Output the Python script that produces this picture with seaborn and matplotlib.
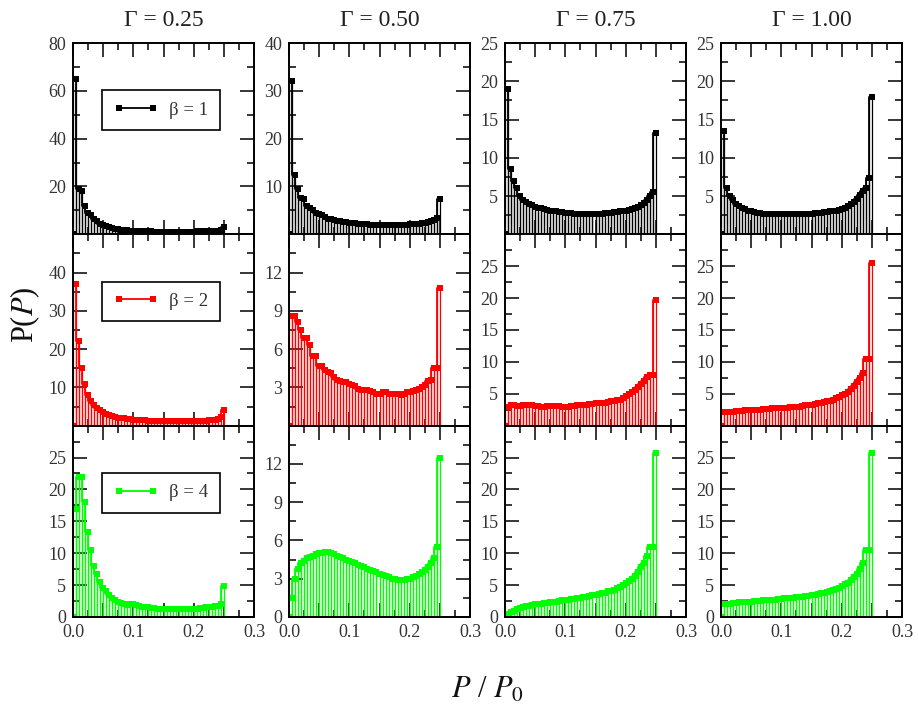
import numpy as np
import pandas as pd
import matplotlib
matplotlib.use('Agg')
import matplotlib.pyplot as plt
import seaborn as sns

# column titles and row labels
gammas = ['0.25', '0.50', '0.75', '1.00']
betas = ['1', '2', '4']
colors = ['black', 'red', '#00ff00']

# P(P) per bin, bins of width 0.005 from 0 to 0.25
# row beta = 1
b1_g025 = [65, 19, 18, 12, 9, 8, 6.5, 5.5, 4.5, 4, 3.5, 3, 2.7, 2.4, 2.2, 2, 1.8, 1.7, 1.6, 1.5,
           1.4, 1.3, 1.3, 1.2, 1.2, 1.2, 1.1, 1.1, 1.1, 1.1, 1.1, 1.1, 1.1, 1.1, 1.1, 1.1, 1.1, 1.1, 1.1, 1.1,
           1.2, 1.2, 1.2, 1.2, 1.3, 1.3, 1.4, 1.6, 2.0, 3.2]
b1_g050 = [32, 12.5, 9.5, 7.5, 7.3, 6, 5.5, 5, 4.5, 4.2, 4, 3.6, 3.3, 3.2, 3, 2.8, 2.7, 2.6, 2.5, 2.4,
           2.3, 2.3, 2.2, 2.2, 2.1, 2.1, 2.0, 2.0, 2.0, 2.0, 2.0, 2.0, 2.0, 2.0, 2.0, 2.0, 2.0, 2.0, 2.0, 2.1,
           2.1, 2.2, 2.2, 2.3, 2.4, 2.6, 2.8, 3.1, 3.4, 7.3]
b1_g075 = [19, 8.5, 7, 6, 5, 4.5, 4.2, 4, 3.8, 3.6, 3.5, 3.4, 3.3, 3.2, 3.1, 3.0, 3.0, 2.9, 2.9, 2.8,
           2.8, 2.8, 2.7, 2.7, 2.7, 2.7, 2.7, 2.7, 2.7, 2.7, 2.7, 2.7, 2.8, 2.8, 2.8, 2.9, 2.9, 3.0, 3.0, 3.1,
           3.2, 3.3, 3.4, 3.6, 3.8, 4.1, 4.5, 5.0, 5.5, 13.2]
b1_g100 = [13.5, 6, 5, 4.5, 4, 3.7, 3.5, 3.3, 3.1, 3.0, 2.9, 2.8, 2.8, 2.7, 2.7, 2.7, 2.7, 2.7, 2.7, 2.7,
           2.6, 2.6, 2.7, 2.7, 2.7, 2.7, 2.6, 2.7, 2.7, 2.7, 2.8, 2.8, 2.8, 2.9, 2.9, 3.0, 3.0, 3.1, 3.2, 3.3,
           3.5, 3.7, 3.9, 4.2, 4.6, 5.2, 5.6, 6.0, 7.3, 18]
# row beta = 2
b2_g025 = [37, 22, 15, 11, 8, 6.5, 5.5, 4.5, 4, 3.5, 3, 2.8, 2.5, 2.3, 2.1, 2, 1.9, 1.8, 1.7, 1.6,
           1.5, 1.5, 1.4, 1.4, 1.3, 1.3, 1.3, 1.2, 1.2, 1.2, 1.2, 1.2, 1.2, 1.2, 1.2, 1.2, 1.2, 1.2, 1.2, 1.2,
           1.2, 1.3, 1.3, 1.3, 1.4, 1.4, 1.5, 1.7, 2.2, 4.0]
b2_g050 = [8.6, 8.6, 8.1, 7.5, 6.9, 6.9, 6.3, 5.5, 5.5, 4.7, 4.7, 4.4, 4.2, 4.1, 3.8, 3.6, 3.5, 3.4, 3.4, 3.3,
           3.2, 3.1, 2.9, 2.8, 2.8, 2.8, 2.7, 2.6, 2.5, 2.5, 2.6, 2.6, 2.5, 2.5, 2.5, 2.5, 2.4, 2.5, 2.6, 2.6,
           2.7, 2.8, 2.9, 3.0, 3.2, 3.5, 3.6, 4.5, 4.5, 10.8]
b2_g075 = [3.0, 3.3, 3.3, 3.1, 3.1, 3.2, 3.2, 3.2, 3.2, 3.1, 3.1, 3.0, 3.0, 3.1, 3.1, 3.1, 3.1, 3.1, 3.0, 3.0,
           3.0, 3.1, 3.1, 3.2, 3.3, 3.3, 3.3, 3.4, 3.4, 3.5, 3.5, 3.6, 3.6, 3.7, 3.8, 3.9, 4.0, 4.1, 4.3, 4.6,
           4.9, 5.2, 5.6, 6.0, 6.5, 7.0, 7.6, 8.0, 8.0, 19.7]
b2_g100 = [2.2, 2.2, 2.2, 2.2, 2.3, 2.3, 2.3, 2.4, 2.4, 2.4, 2.5, 2.5, 2.5, 2.6, 2.6, 2.6, 2.7, 2.7, 2.7, 2.8,
           2.8, 2.8, 2.9, 2.9, 3.0, 3.0, 3.1, 3.2, 3.2, 3.3, 3.4, 3.5, 3.6, 3.7, 3.8, 3.9, 4.1, 4.3, 4.5, 4.8,
           5.0, 5.3, 5.7, 6.2, 6.8, 7.5, 8.3, 10.5, 10.5, 25.5]
# row beta = 4
b4_g025 = [17, 22, 22, 18, 13.3, 10.5, 8, 6.8, 5.5, 4.5, 4.0, 3.4, 3.0, 2.7, 2.4, 2.2, 2.0, 1.9, 2.0, 2.1,
           1.9, 1.7, 1.6, 1.5, 1.5, 1.4, 1.4, 1.3, 1.3, 1.2, 1.2, 1.2, 1.2, 1.2, 1.2, 1.2, 1.2, 1.2, 1.3, 1.3,
           1.3, 1.4, 1.4, 1.5, 1.5, 1.6, 1.7, 1.8, 2.0, 4.8]
b4_g050 = [1.5, 3.0, 3.8, 4.2, 4.4, 4.6, 4.7, 4.8, 4.9, 5.0, 5.0, 5.1, 5.1, 5.0, 4.9, 4.8, 4.7, 4.6, 4.5, 4.4,
           4.3, 4.2, 4.1, 4.0, 3.9, 3.8, 3.7, 3.6, 3.5, 3.4, 3.3, 3.2, 3.1, 3.0, 3.0, 2.9, 2.9, 2.9, 3.0, 3.0,
           3.1, 3.2, 3.4, 3.5, 3.7, 3.9, 4.2, 4.6, 5.5, 12.5]
b4_g075 = [0.5, 0.8, 1.0, 1.2, 1.4, 1.5, 1.7, 1.8, 1.9, 2.0, 2.0, 2.1, 2.2, 2.2, 2.3, 2.4, 2.4, 2.5, 2.6, 2.6,
           2.7, 2.8, 2.8, 2.9, 3.0, 3.1, 3.2, 3.3, 3.4, 3.5, 3.6, 3.7, 3.8, 4.0, 4.1, 4.3, 4.5, 4.7, 5.0, 5.3,
           5.6, 6.0, 6.5, 7.0, 7.8, 8.5, 9.5, 11, 11, 25.7]
b4_g100 = [2.0, 2.1, 2.1, 2.2, 2.2, 2.3, 2.3, 2.3, 2.4, 2.4, 2.5, 2.5, 2.5, 2.6, 2.6, 2.6, 2.7, 2.7, 2.8, 2.8,
           2.9, 2.9, 3.0, 3.0, 3.1, 3.1, 3.2, 3.3, 3.3, 3.4, 3.5, 3.6, 3.7, 3.8, 3.9, 4.0, 4.2, 4.4, 4.6, 4.8,
           5.1, 5.4, 5.8, 6.3, 6.8, 7.6, 8.5, 10.5, 10.5, 25.7]

data = [[b1_g025, b1_g050, b1_g075, b1_g100],
        [b2_g025, b2_g050, b2_g075, b2_g100],
        [b4_g025, b4_g050, b4_g075, b4_g100]]

# y axis (max, major step) per panel
ylims = [[(80, 20), (40, 10), (25, 5), (25, 5)],
         [(50, 10), (15, 3), (30, 5), (30, 5)],
         [(30, 5), (15, 3), (30, 5), (30, 5)]]

sns.set_theme(style='ticks')
plt.rcParams['font.family'] = ['Liberation Serif', 'DejaVu Serif']
plt.rcParams['mathtext.fontset'] = 'stix'

fig = plt.figure(figsize=(9.18, 7.14), dpi=100)
W, H = 918., 714.
left0, pw, gap = 73., 181., 35.
top0, ph = 43., 191.33

for r in range(3):
    for c in range(4):
        x0 = left0 + c*(pw + gap)
        y1 = top0 + (r+1)*ph
        ax = fig.add_axes([x0/W, 1 - y1/H, pw/W, ph/H])
        h = np.array(data[r][c], dtype=float)
        edges = np.linspace(0, 0.25, len(h) + 1)
        df = pd.DataFrame({'P': (edges[:-1] + edges[1:])/2, 'w': h})
        col = colors[r]
        # bar outlines (the vertical lines)
        sns.histplot(data=df, x='P', weights='w', bins=list(edges), element='bars', fill=False,
                     color=col, linewidth=0.9, ax=ax)
        # step line with square markers
        steps = pd.DataFrame({'P': edges, 'y': np.r_[0, h]})
        sns.lineplot(data=steps, x='P', y='y', drawstyle='steps-pre', marker='s',
                     markersize=4.5, markeredgewidth=0, color=col, linewidth=1.3, ax=ax)

        ymax, step = ylims[r][c]
        ax.set_xlim(0, 0.3)
        ax.set_ylim(0, ymax)
        ax.set_xlabel('')
        ax.set_ylabel('')
        xt = np.arange(0, 0.3001, 0.05)
        ax.set_xticks(xt)
        ax.set_xticks(np.arange(0, 0.3001, 0.025), minor=True)
        if r == 2:
            ax.set_xticklabels(['%.1f' % v if abs(v*10 - round(v*10)) < 1e-6 else '' for v in xt])
        else:
            ax.set_xticklabels([])
        yt = np.arange(0, ymax + 0.001, step)
        ax.set_yticks(yt)
        ax.set_yticks(np.arange(0, ymax + 0.001, step/2), minor=True)
        labs = []
        for v in yt:
            if (v == 0 and r < 2) or (v == ymax and r > 0):
                labs.append('')
            else:
                labs.append('%g' % v)
        ax.set_yticklabels(labs)
        ax.tick_params(which='both', direction='in', top=True, right=True,
                       colors='black', labelcolor='#333333', labelsize=13, width=1.1)
        ax.tick_params(which='major', length=10)
        ax.tick_params(which='minor', length=5)
        ax.tick_params(axis='y', pad=5)
        ax.tick_params(axis='x', pad=5)
        for s in ax.spines.values():
            s.set_linewidth(1.4)
            s.set_color('black')
        if r == 0:
            ax.set_title('Γ = ' + gammas[c], fontsize=17, pad=12, color='#222222')
        if c == 0:
            leg = ax.legend([ax.lines[-1]], ['β = ' + betas[r]], loc='upper left',
                            bbox_to_anchor=(0.16, 0.753), frameon=True, fancybox=False,
                            edgecolor='black', framealpha=1, fontsize=13.5, numpoints=2,
                            handlelength=2.4, borderpad=0.6, handletextpad=0.6,
                            borderaxespad=0)
            leg.get_frame().set_linewidth(1.2)
            for t in leg.get_texts():
                t.set_color('#333333')

fig.text(25/W, 1 - 315/H, 'P($\\mathit{P}$)', rotation=90, ha='center', va='center',
         fontsize=22, color='#111111')
fig.text(488/W, 1 - 690/H, '$P$ / $P_0$', ha='center', va='center', fontsize=22,
         color='#111111')

plt.savefig('out.png', dpi=100)
